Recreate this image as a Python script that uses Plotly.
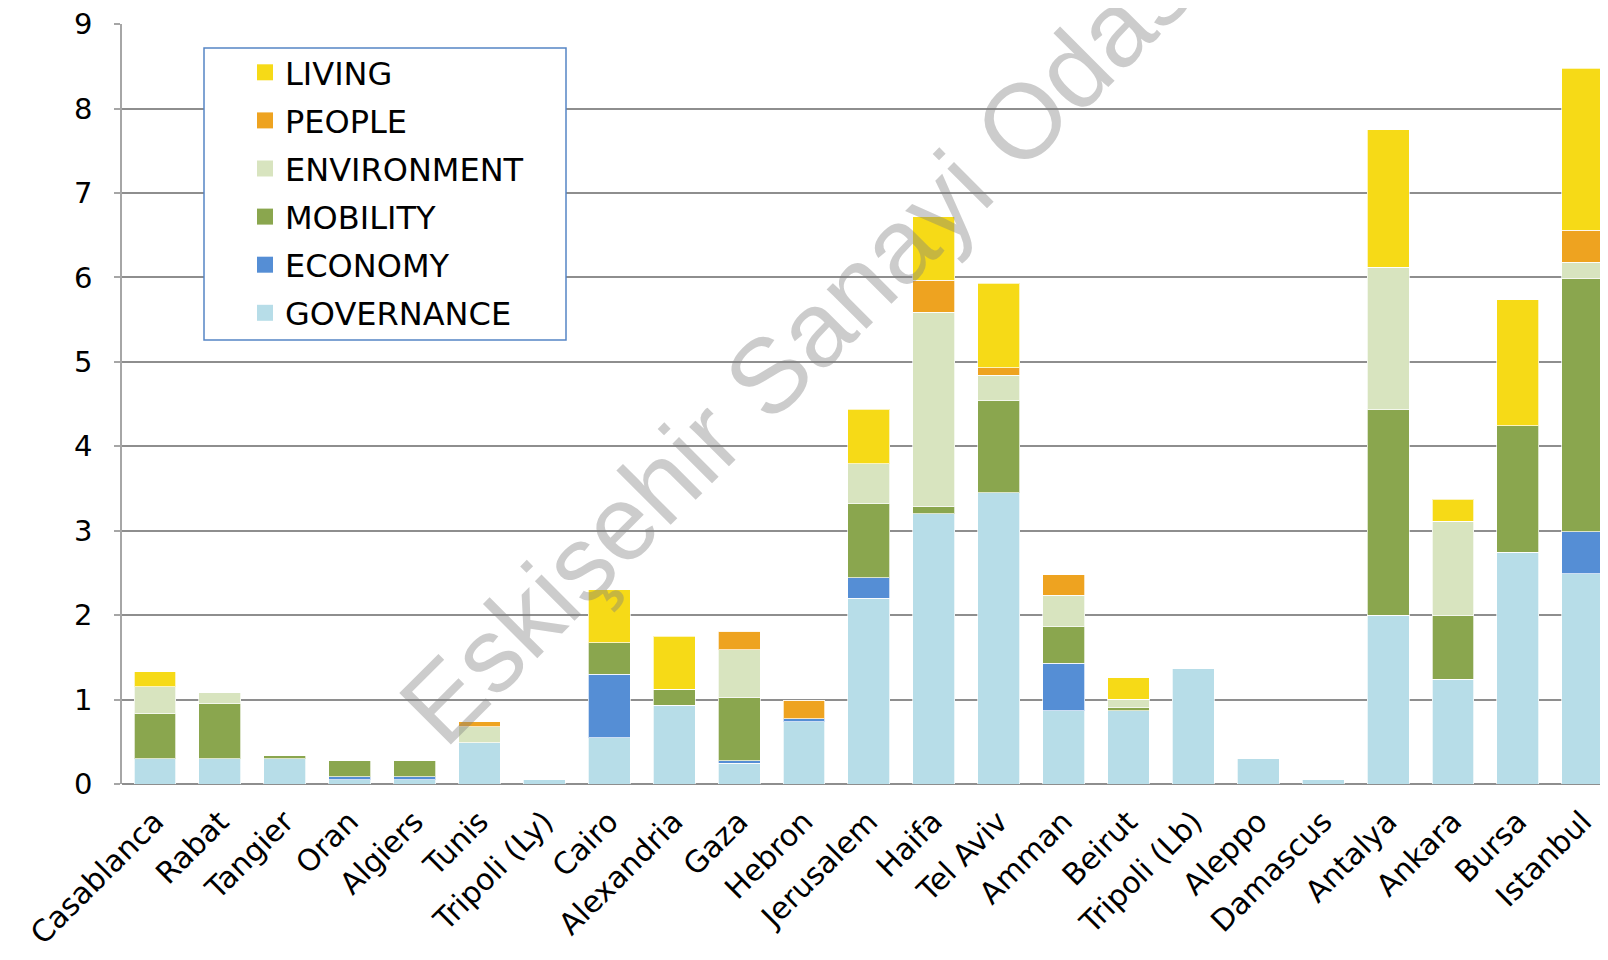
import plotly.graph_objects as go

cities = ["Casablanca", "Rabat", "Tangier", "Oran", "Algiers", "Tunis", "Tripoli (Ly)",
          "Cairo", "Alexandria", "Gaza", "Hebron", "Jerusalem", "Haifa", "Tel Aviv",
          "Amman", "Beirut", "Tripoli (Lb)", "Aleppo", "Damascus", "Antalya", "Ankara",
          "Bursa", "Istanbul"]

governance = [0.30, 0.30, 0.30, 0.05, 0.05, 0.49, 0.05, 0.55, 0.93, 0.245, 0.74, 2.20,
              3.20, 3.45, 0.87, 0.87, 1.37, 0.30, 0.05, 2.00, 1.24, 2.745, 2.49]
economy = [0, 0, 0, 0.035, 0.035, 0, 0, 0.75, 0, 0.03, 0.03, 0.245,
           0, 0, 0.56, 0, 0, 0, 0, 0, 0, 0, 0.50]
mobility = [0.53, 0.65, 0.035, 0.19, 0.19, 0, 0, 0.375, 0.19, 0.755, 0, 0.875,
            0.09, 1.09, 0.435, 0.035, 0, 0, 0, 2.43, 0.75, 1.50, 3.0]
environment = [0.32, 0.13, 0, 0, 0, 0.19, 0, 0, 0, 0.56, 0, 0.476,
               2.30, 0.30, 0.37, 0.10, 0, 0, 0, 1.69, 1.125, 0, 0.19]
people = [0, 0, 0, 0, 0, 0.06, 0, 0, 0, 0.22, 0.22, 0,
          0.376, 0.09, 0.245, 0, 0, 0, 0, 0, 0, 0, 0.38]
living = [0.18, 0, 0, 0, 0, 0, 0, 0.625, 0.63, 0, 0, 0.64,
          0.753, 1.0, 0, 0.255, 0, 0, 0, 1.63, 0.255, 1.49, 1.92]
y_ticks = [0, 1, 2, 3, 4, 5, 6, 7, 8, 9]

series = [
    ("GOVERNANCE", governance, "#B7DDE8"),
    ("ECONOMY", economy, "#558ED5"),
    ("MOBILITY", mobility, "#8AA64E"),
    ("ENVIRONMENT", environment, "#D8E4BF"),
    ("PEOPLE", people, "#EEA320"),
    ("LIVING", living, "#F6DA17"),
]

FONT = "DejaVu Sans"
OFF = 8  # default page body margin

fig = go.Figure()
for name, vals, col in series:
    fig.add_trace(go.Bar(
        x=cities, y=vals, name=name, showlegend=False,
        marker=dict(color=col, line=dict(color="rgba(255,255,255,0.7)", width=1)),
    ))

# legend entries (top to bottom: LIVING ... GOVERNANCE)
for name, vals, col in reversed(series):
    fig.add_trace(go.Scatter(
        x=[None], y=[None], mode="markers", name=name, legendgroup=name,
        marker=dict(symbol="square", size=16, color=col),
    ))

FW, FH = 1600 - OFF, 960 - 2 * OFF
L, T = 122 - OFF, 24 - OFF
W, H = FW - L, 760

def px(x):
    return (x - OFF - L) / W

def py(y):
    return (T + H - (y - OFF)) / H

cat_w = 64.9
x0 = -0.508
x1 = x0 + W / cat_w

fig.update_layout(
    width=FW, height=FH,
    margin=dict(l=L, r=0, t=T, b=FH - T - H, pad=0, autoexpand=False),
    paper_bgcolor="white", plot_bgcolor="white",
    barmode="stack", bargap=0.355,
    font=dict(family=FONT, color="#000000"),
    showlegend=True,
    legend=dict(
        x=px(245), y=py(45), xanchor="left", yanchor="top",
        bgcolor="rgba(0,0,0,0)", borderwidth=0,
        font=dict(family=FONT, size=32, color="#000000"),
        traceorder="grouped", tracegroupgap=3.5,
    ),
    xaxis=dict(
        range=[x0, x1], tickangle=-45, showgrid=False, automargin=False,
        tickfont=dict(family=FONT, size=30, color="#000000"),
        showline=False, ticks="", ticklabelstandoff=13, zeroline=False,
    ),
    yaxis=dict(
        range=[0, 9.002], tickmode="array", tickvals=y_ticks, automargin=False,
        ticktext=[str(v) for v in y_ticks], ticklabeloverflow="allow",
        showgrid=True, gridcolor="#8E8E8E", gridwidth=1.5,
        showline=True, linecolor="#A6A6A6", linewidth=1.5,
        ticks="outside", ticklen=6, tickcolor="#A6A6A6", tickwidth=1.5,
        tickfont=dict(family=FONT, size=29, color="#000000"),
        ticklabelstandoff=16, zeroline=True, zerolinecolor="#8E8E8E", zerolinewidth=2,
    ),
    shapes=[dict(
        type="rect", xref="paper", yref="paper",
        x0=px(204), x1=px(566), y0=py(340), y1=py(48),
        line=dict(color="#5585C5", width=1.5), fillcolor="white", layer="above",
    )],
    annotations=[dict(
        text="Eskişehir Sanayi Odası", xref="paper", yref="paper",
        x=px(806), y=py(337), xanchor="center", yanchor="middle",
        textangle=-45, showarrow=False,
        font=dict(family="Liberation Sans", size=106, color="rgba(128,128,128,0.4)"),
    )],
)

fig.write_html("out.html")
